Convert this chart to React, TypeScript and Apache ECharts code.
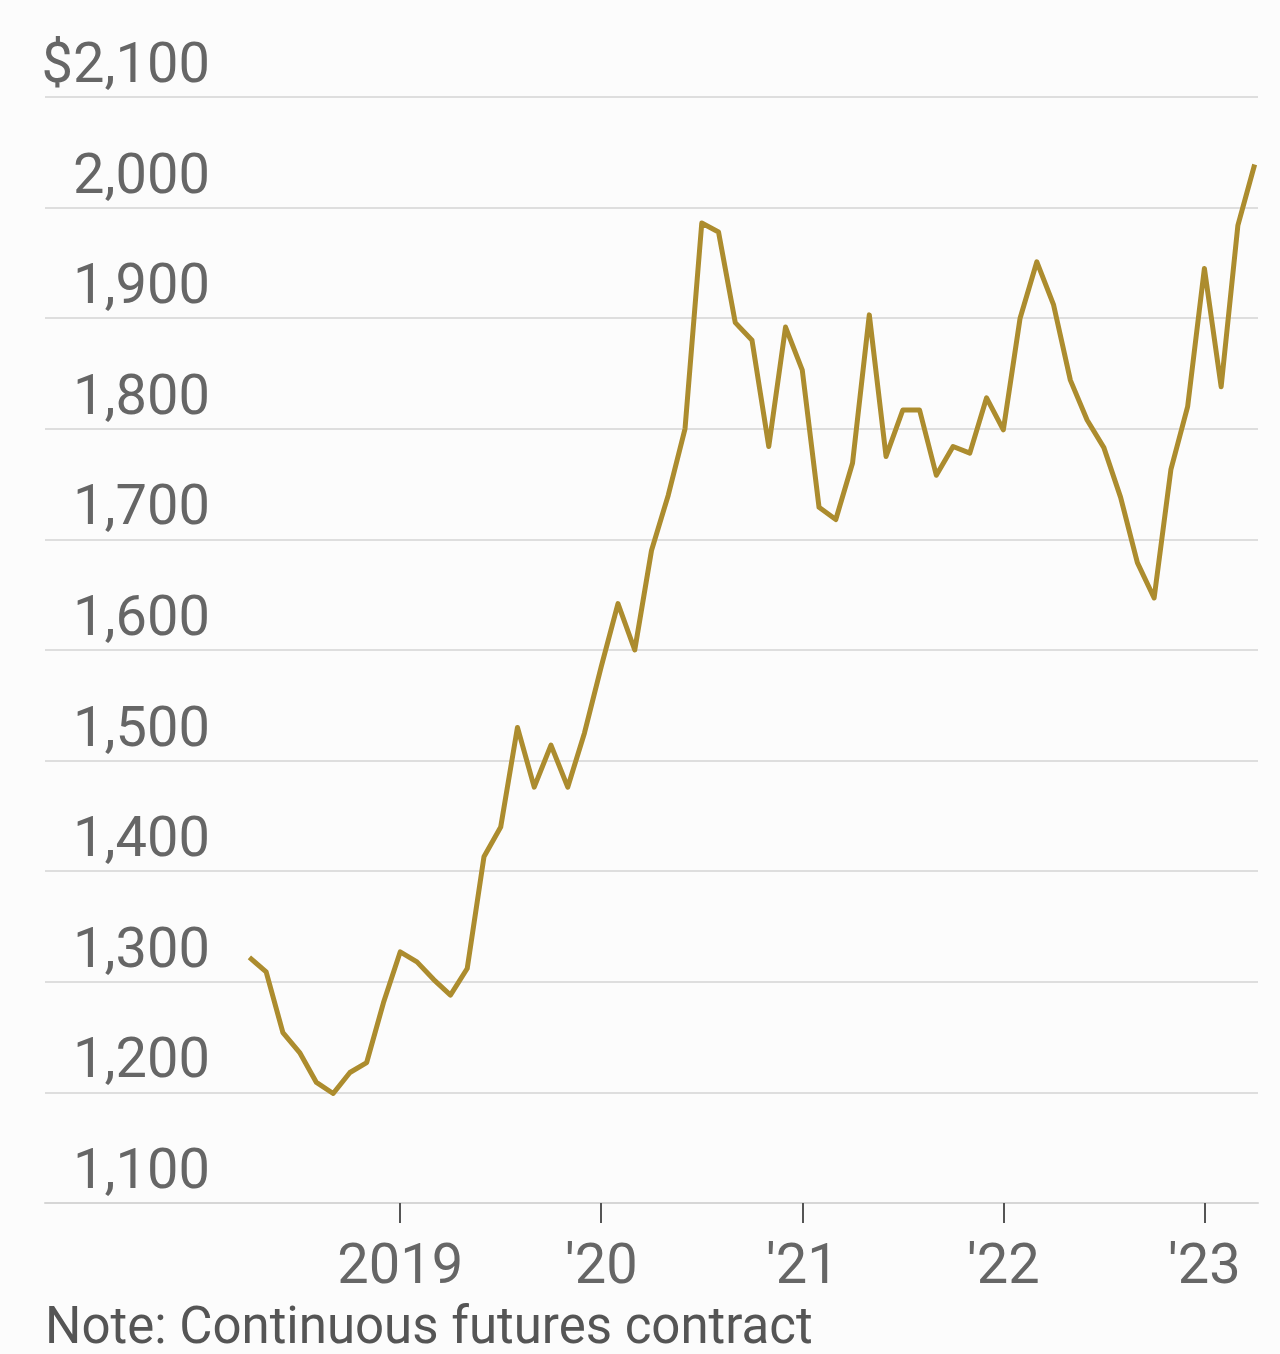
import React, { useEffect, useRef } from "react";
import * as echarts from "echarts";

// Month index: 0 = Jan 2018. Data runs Apr 2018 (3) to Apr 2023 (63).
const startMonth = 3;
const prices = [
  1322, 1309, 1254, 1236, 1209, 1199, 1218, 1227, 1281, // Apr–Dec 2018
  1327, 1318, 1302, 1288, 1312, 1413, 1440, 1530, 1476, 1514, 1476, 1525, // 2019
  1585, 1642, 1600, 1690, 1740, 1800, 1986, 1978, 1896, 1880, 1784, 1892, // 2020
  1853, 1729, 1718, 1769, 1903, 1775, 1817, 1817, 1758, 1784, 1778, 1828, // 2021
  1799, 1900, 1951, 1912, 1844, 1808, 1783, 1738, 1679, 1647, 1763, 1820, // 2022
  1945, 1838, 1984, 2039, // Jan–Apr 2023
];
const yearTicks = [12, 24, 36, 48, 60];
const yearLabels = ["2019", "'20", "'21", "'22", "'23"];
const yTicks = [1100, 1200, 1300, 1400, 1500, 1600, 1700, 1800, 1900, 2000, 2100];
const noteText = "Note: Continuous futures contract";

export default function App() {
  const ref = useRef<HTMLDivElement>(null);
  useEffect(() => {
    document.body.style.margin = "0";
    document.body.style.background = "#fcfcfc";
    const chart = echarts.init(ref.current!, null, { renderer: "svg" });
    const data = prices.map((v, i) => [startMonth + i, v]);
    const font = "Roboto, 'Liberation Sans', sans-serif";
    chart.setOption({
      animation: false,
      backgroundColor: "#fcfcfc",
      grid: { left: 45, right: 22, top: 97, bottom: 151, containLabel: false },
      xAxis: {
        type: "value",
        min: -9.2,
        max: 63.2,
        splitLine: { show: false },
        axisLine: { show: true, lineStyle: { color: "#d6d6d6", width: 2 } },
        axisTick: {
          show: true,
          customValues: yearTicks,
          length: 20,
          lineStyle: { color: "#555", width: 2 },
        },
        axisLabel: {
          show: true,
          customValues: yearTicks,
          margin: 37,
          fontFamily: font,
          fontSize: 56,
          lineHeight: 48,
          color: "#666",
          formatter: (v: number) => yearLabels[yearTicks.indexOf(Math.round(v))] ?? "",
        },
      },
      yAxis: {
        type: "value",
        min: 1100,
        max: 2100,
        interval: 100,
        axisLine: { show: false },
        axisTick: { show: false },
        splitLine: { show: true, lineStyle: { color: "#dedede", width: 2 } },
        axisLabel: {
          inside: true,
          margin: 165,
          align: "right",
          verticalAlign: "bottom",
          fontFamily: font,
          fontSize: 56,
          lineHeight: 56,
          padding: [0, 0, 6, 0],
          color: "#666",
          showMinLabel: true,
          showMaxLabel: true,
          formatter: (v: number) => {
            if (!yTicks.includes(v)) return "";
            const s = v.toLocaleString("en-US");
            return v === 2100 ? "$" + s : s;
          },
        },
      },
      series: [
        {
          type: "line",
          data,
          showSymbol: false,
          symbol: "none",
          lineStyle: { color: "#ac8c2e", width: 5, join: "round" },
        },
      ],
      graphic: [
        {
          type: "text",
          left: 45,
          top: 1300,
          style: { text: noteText, fontFamily: font, fontSize: 51, lineHeight: 50, fill: "#555" },
        },
      ],
    });
    return () => chart.dispose();
  }, []);
  return <div ref={ref} style={{ width: 1280, height: 1354 }} />;
}
